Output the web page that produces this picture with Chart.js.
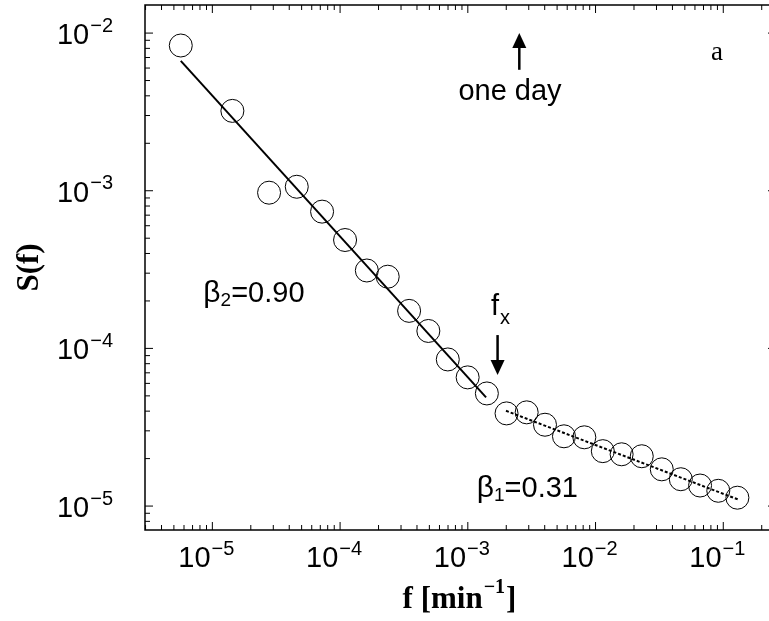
<!DOCTYPE html>
<html>
<head>
<meta charset="utf-8">
<script src="https://cdn.jsdelivr.net/npm/chart.js@4"></script>
<style>
  html, body { margin: 0; padding: 0; background: #fff; overflow: hidden; }
  #wrap { width: 769px; height: 621px; }
</style>
</head>
<body>
<div id="wrap"><canvas id="spec" width="769" height="621"></canvas></div>
<script>
const freq = [5.66e-6, 1.435e-5, 2.78e-5, 4.58e-5, 7.23e-5, 1.094e-4, 1.62e-4, 2.36e-4,
  3.47e-4, 4.91e-4, 6.97e-4, 9.97e-4, 1.41e-3, 2.01e-3, 2.89e-3, 4.02e-3, 5.66e-3,
  8.17e-3, 1.14e-2, 1.60e-2, 2.30e-2, 3.30e-2, 4.65e-2, 6.58e-2, 9.14e-2, 1.29e-1];
const power = [8.34e-3, 3.21e-3, 9.72e-4, 1.06e-3, 7.37e-4, 4.87e-4, 3.12e-4, 2.85e-4,
  1.73e-4, 1.29e-4, 8.51e-5, 6.55e-5, 5.18e-5, 3.87e-5, 3.93e-5, 3.28e-5, 2.77e-5,
  2.73e-5, 2.23e-5, 2.13e-5, 2.07e-5, 1.71e-5, 1.48e-5, 1.35e-5, 1.25e-5, 1.13e-5];

// fitted power laws (end points)
const fitLowX = [5.66e-6, 1.39e-3];
const fitLowY = [6.67e-3, 4.89e-5];
const fitHighX = [1.99e-3, 0.131];
const fitHighY = [4.02e-5, 1.10e-5];

// tick labels (decade exponents)
const xExponents = [-5, -4, -3, -2, -1];
const yExponents = [-5, -4, -3, -2];

// the right edge of the original frame is cut off by the picture
const xRange = [2.97e-6, 0.228];
const yRange = [7.05e-6, 0.01507];

const pts = (xs, ys) => xs.map((x, i) => ({ x: x, y: ys[i] }));

const SANS = '"Liberation Sans", Arial, Helvetica, sans-serif';
const SERIF = '"Liberation Serif", "Times New Roman", serif';

// draws "10" with a raised exponent
function drawPow(ctx, exp, x, y, align) {
  const base = '10', sup = '\u2212' + Math.abs(exp);
  ctx.font = '29px ' + SANS;
  const wb = ctx.measureText(base).width;
  ctx.font = '20px ' + SANS;
  const ws = ctx.measureText(sup).width;
  let left = align === 'right' ? x - wb - ws : x - (wb + ws) / 2;
  ctx.textAlign = 'left';
  ctx.textBaseline = 'alphabetic';
  ctx.font = '29px ' + SANS;
  ctx.fillText(base, left, y);
  ctx.font = '20px ' + SANS;
  ctx.fillText(sup, left + wb + 1, y - 12.5);
}

function arrow(ctx, x, y1, y2) {
  // y2 is the tip
  const dir = y2 < y1 ? 1 : -1;
  ctx.beginPath();
  ctx.lineWidth = 2.5;
  ctx.moveTo(x, y1);
  ctx.lineTo(x, y2 + dir * 10);
  ctx.stroke();
  ctx.beginPath();
  ctx.moveTo(x, y2);
  ctx.lineTo(x - 7, y2 + dir * 15);
  ctx.lineTo(x + 7, y2 + dir * 15);
  ctx.closePath();
  ctx.fill();
}

const framePlugin = {
  id: 'frame',
  afterDraw(chart) {
    const ctx = chart.ctx, a = chart.chartArea;
    const xs = chart.scales.x, ys = chart.scales.y;
    const rightEdge = a.right + 7; // frame line falls outside the canvas
    ctx.save();
    ctx.strokeStyle = '#000';
    ctx.fillStyle = '#000';

    // frame
    ctx.lineWidth = 1.5;
    ctx.beginPath();
    ctx.moveTo(rightEdge, a.top);
    ctx.lineTo(a.left, a.top);
    ctx.lineTo(a.left, a.bottom);
    ctx.lineTo(rightEdge, a.bottom);
    ctx.stroke();

    // inward ticks, decades 2..9 minors
    ctx.lineWidth = 1;
    ctx.beginPath();
    for (let d = -6; d <= 0; d++) {
      for (let m = 1; m <= 9; m++) {
        const v = m * Math.pow(10, d);
        const len = m === 1 ? 8 : 5;
        if (v >= xRange[0] && v <= xRange[1] * 1.2) {
          const px = xs.getPixelForValue(v);
          ctx.moveTo(px, a.bottom); ctx.lineTo(px, a.bottom - len);
          ctx.moveTo(px, a.top); ctx.lineTo(px, a.top + len);
        }
        if (v >= yRange[0] && v <= yRange[1]) {
          const py = ys.getPixelForValue(v);
          ctx.moveTo(a.left, py); ctx.lineTo(a.left + len, py);
          ctx.moveTo(rightEdge, py); ctx.lineTo(rightEdge - len, py);
        }
      }
    }
    ctx.stroke();

    // tick labels
    xExponents.forEach(e => drawPow(ctx, e, xs.getPixelForValue(Math.pow(10, e)) - 6.5, 567, 'center'));
    yExponents.forEach(e => drawPow(ctx, e, 112, ys.getPixelForValue(Math.pow(10, e)) + 11, 'right'));

    // axis titles
    ctx.font = 'bold 31px ' + SERIF;
    ctx.textBaseline = 'alphabetic';
    const t1 = 'f [min', t2 = '\u22121', t3 = ']';
    const w1 = ctx.measureText(t1).width, w3 = ctx.measureText(t3).width;
    ctx.font = 'bold 20px ' + SERIF;
    const w2 = ctx.measureText(t2).width;
    let tx = 458.5 - (w1 + w2 + w3) / 2;
    ctx.textAlign = 'left';
    ctx.font = 'bold 31px ' + SERIF;
    ctx.fillText(t1, tx, 608);
    ctx.font = 'bold 20px ' + SERIF;
    ctx.fillText(t2, tx + w1 + 1, 593);
    ctx.font = 'bold 31px ' + SERIF;
    ctx.fillText(t3, tx + w1 + w2 + 2, 608);

    ctx.save();
    ctx.translate(30, (a.top + a.bottom) / 2);
    ctx.rotate(-Math.PI / 2);
    ctx.textAlign = 'center';
    ctx.textBaseline = 'middle';
    ctx.font = 'bold 31px ' + SERIF;
    ctx.fillText('S(f)', 0, 0);
    ctx.restore();

    // annotations
    ctx.textBaseline = 'alphabetic';
    ctx.font = '29px ' + SANS;
    ctx.textAlign = 'center';
    ctx.fillText('one day', xs.getPixelForValue(2.14e-3), ys.getPixelForValue(3.77e-3));
    const ax = xs.getPixelForValue(2.53e-3);
    arrow(ctx, ax, ys.getPixelForValue(5.85e-3), ys.getPixelForValue(1.0e-2));

    const fx = xs.getPixelForValue(1.71e-3);
    arrow(ctx, fx, ys.getPixelForValue(1.215e-4), ys.getPixelForValue(6.77e-5));
    ctx.textAlign = 'left';
    ctx.font = '29px ' + SANS;
    const fl = xs.getPixelForValue(1.52e-3), fb = ys.getPixelForValue(1.625e-4);
    ctx.fillText('f', fl, fb);
    const fw = ctx.measureText('f').width;
    ctx.font = '20px ' + SANS;
    ctx.fillText('x', fl + fw + 1, fb + 9);

    const beta = (sub, val, xv, yv) => {
      let px = xs.getPixelForValue(xv), py = ys.getPixelForValue(yv);
      ctx.font = '30px ' + SANS;
      ctx.fillText('\u03b2', px, py);
      px += ctx.measureText('\u03b2').width;
      ctx.font = '19px ' + SANS;
      ctx.fillText(sub, px, py + 4);
      px += ctx.measureText(sub).width;
      ctx.font = '29px ' + SANS;
      ctx.fillText('=' + val, px, py);
    };
    beta('2', '0.90', 8.5e-6, 1.97e-4);
    beta('1', '0.31', 1.175e-3, 1.14e-5);

    ctx.font = '27px ' + SERIF;
    ctx.fillText('a', xs.getPixelForValue(0.0802), ys.getPixelForValue(6.77e-3));
    ctx.restore();
  }
};

new Chart(document.getElementById('spec'), {
  type: 'scatter',
  data: {
    datasets: [
      {
        data: pts(freq, power),
        pointRadius: 11.5,
        pointHoverRadius: 11.5,
        pointBorderWidth: 1,
        borderColor: '#000',
        backgroundColor: 'rgba(0,0,0,0)',
        showLine: false
      },
      {
        type: 'line',
        data: pts(fitLowX, fitLowY),
        borderColor: '#000',
        borderWidth: 2,
        pointRadius: 0
      },
      {
        type: 'line',
        data: pts(fitHighX, fitHighY),
        borderColor: '#000',
        borderWidth: 2,
        borderDash: [3, 2],
        pointRadius: 0
      }
    ]
  },
  options: {
    responsive: false,
    animation: false,
    events: [],
    layout: { autoPadding: false, padding: { top: 5, right: 0, left: 0, bottom: 0 } },
    plugins: { legend: { display: false }, tooltip: { enabled: false } },
    scales: {
      x: {
        type: 'logarithmic',
        min: xRange[0], max: xRange[1],
        grid: { display: false },
        border: { display: false },
        ticks: { display: false },
        afterFit: s => { s.height = 91; }
      },
      y: {
        type: 'logarithmic',
        min: yRange[0], max: yRange[1],
        grid: { display: false },
        border: { display: false },
        ticks: { display: false },
        afterFit: s => { s.width = 145; }
      }
    }
  },
  plugins: [framePlugin]
});
</script>
</body>
</html>
